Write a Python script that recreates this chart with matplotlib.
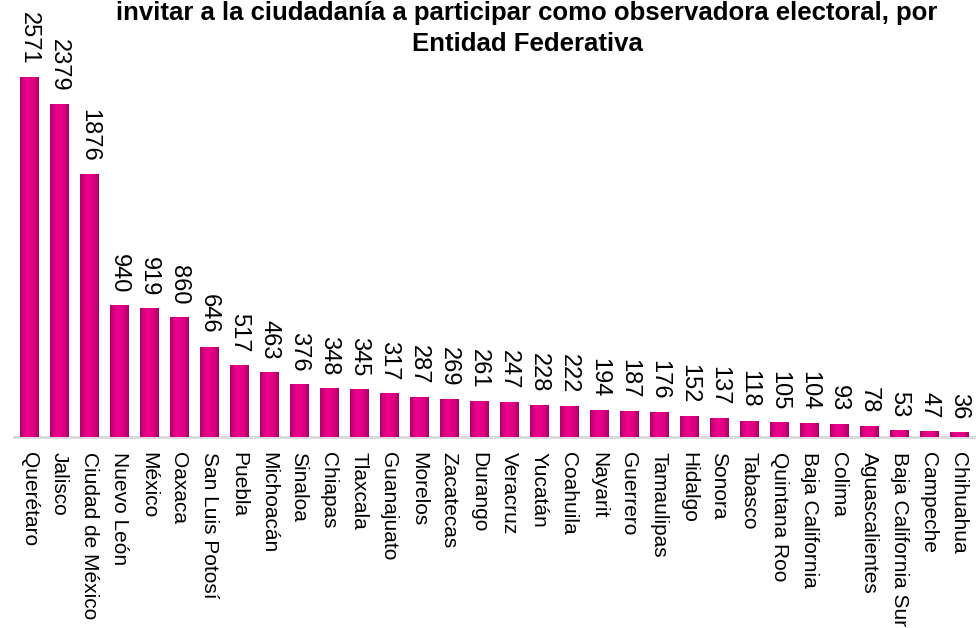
import matplotlib.pyplot as plt
import numpy as np
from matplotlib.colors import LinearSegmentedColormap

plt.rcParams['font.family'] = ['Liberation Sans', 'DejaVu Sans']

entidades = ['Querétaro', 'Jalisco', 'Ciudad de México', 'Nuevo León', 'México',
             'Oaxaca', 'San Luis Potosí', 'Puebla', 'Michoacán', 'Sinaloa',
             'Chiapas', 'Tlaxcala', 'Guanajuato', 'Morelos', 'Zacatecas',
             'Durango', 'Veracruz', 'Yucatán', 'Coahuila', 'Nayarit',
             'Guerrero', 'Tamaulipas', 'Hidalgo', 'Sonora', 'Tabasco',
             'Quintana Roo', 'Baja California', 'Colima', 'Aguascalientes',
             'Baja California Sur', 'Campeche', 'Chihuahua']
valores = [2571, 2379, 1876, 940, 919, 860, 646, 517, 463, 376, 348, 345, 317,
           287, 269, 261, 247, 228, 222, 194, 187, 176, 152, 137, 118, 105, 104,
           93, 78, 53, 47, 36]

titulo = ('invitar a la ciudadanía a participar como observadora electoral, por\n'
          'Entidad Federativa')

fig = plt.figure(figsize=(9.76, 6.28), dpi=100)
# axes placed so the bars line up with the reference (~30 px per category)
ax = fig.add_axes([14 / 976, 0.304, 32 * 30.0 / 976, 0.696])

x = np.arange(len(valores))
ancho = 0.63
bars = ax.bar(x, valores, width=ancho, color='#dc0080', zorder=2)

# cylinder-like shading: horizontal gradient clipped to each bar
cmap = LinearSegmentedColormap.from_list(
    'cil', ['#ad0066', '#d9007e', '#ee008e', '#e60086', '#d2007a', '#ad0066'])
grad = np.linspace(0, 1, 64).reshape(1, -1)
for b in bars:
    im = ax.imshow(grad, cmap=cmap, aspect='auto', zorder=3,
                   extent=(b.get_x(), b.get_x() + b.get_width(), 0, b.get_height()))
    im.set_clip_path(b)

ymax = valores[0] * 437 / 360
ax.set_xlim(-0.5, len(valores) - 0.5)
ax.set_ylim(0, ymax)

for xi, v in zip(x, valores):
    ax.annotate(str(v), (xi, v), xytext=(0, 9), textcoords='offset points',
                rotation=270, ha='center', va='bottom', fontsize=17, color='black')

ax.set_xticks(x)
ax.set_xticklabels(entidades, rotation=270, ha='center', va='top', fontsize=15)
ax.tick_params(axis='x', length=0, pad=11)
ax.set_yticks([])
for s in ['top', 'right', 'left']:
    ax.spines[s].set_visible(False)
ax.spines['bottom'].set_color('#d9d9d9')
ax.spines['bottom'].set_linewidth(2)
ax.patch.set_alpha(0)

fig.text(0.54, 0.999, titulo, ha='center', va='top', fontsize=18.5,
         fontweight='bold', linespacing=1.4)

fig.savefig('out.png', dpi=100)
